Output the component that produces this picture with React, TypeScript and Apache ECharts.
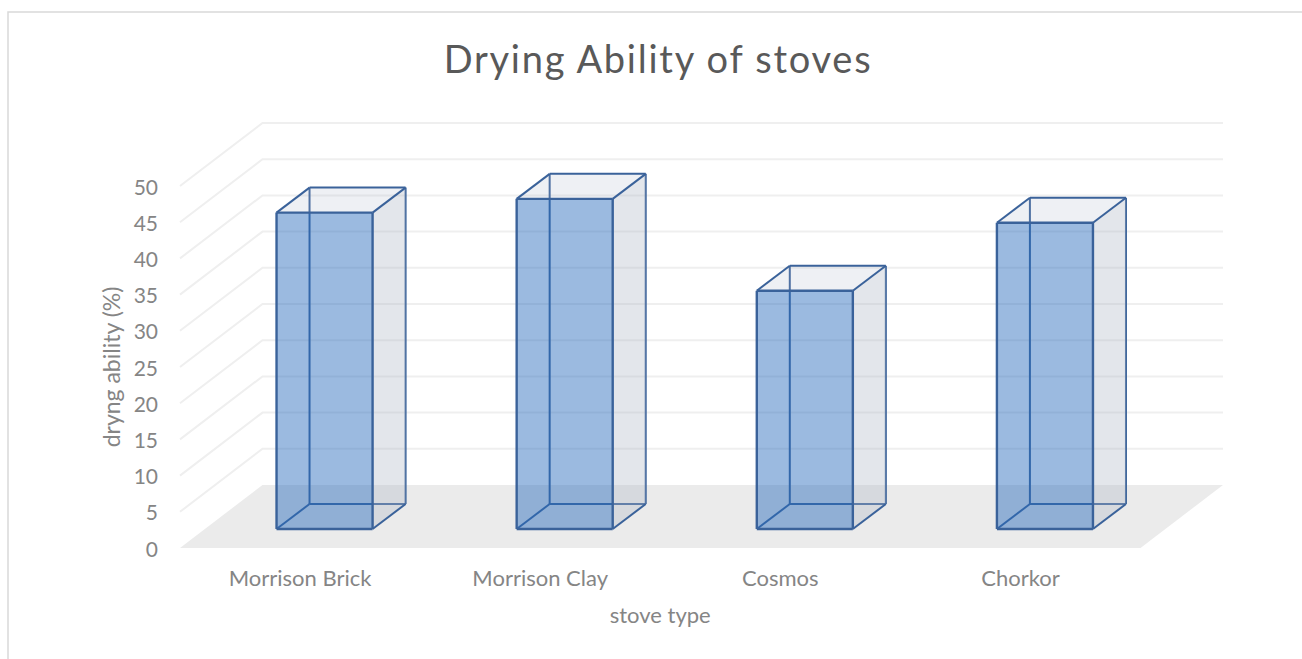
import React, { useEffect, useRef } from "react";
import * as echarts from "echarts";

const categories = ["Morrison Brick", "Morrison Clay", "Cosmos", "Chorkor"];
const dryingAbility = [43.7, 45.6, 32.9, 42.3];
const gridTicks = [5, 10, 15, 20, 25, 30, 35, 40, 45, 50];

const FLOOR_DX = 82.5;
const FLOOR_DY = 63;
const BAR_SHIFT_X = 24.5;
const BAR_SHIFT_Y = 19;
const BAR_DX = 33;
const BAR_DY = 25;
const BAR_RATIO = 0.4;
const FONT = "Lato, 'Open Sans', sans-serif";
const EDGE = "#3a629a";

function renderFloor(params: any, api: any) {
  const r = params.coordSys;
  const y = r.y + r.height;
  return {
    type: "polygon",
    silent: true,
    shape: {
      points: [
        [r.x, y],
        [r.x + FLOOR_DX, y - FLOOR_DY],
        [r.x + r.width + FLOOR_DX, y - FLOOR_DY],
        [r.x + r.width, y],
      ],
    },
    style: { fill: "#ebebeb", stroke: "none" },
  };
}

function renderGridLine(params: any, api: any) {
  const r = params.coordSys;
  const y = api.coord([0, api.value(0)])[1];
  return {
    type: "polyline",
    silent: true,
    shape: {
      points: [
        [r.x, y],
        [r.x + FLOOR_DX, y - FLOOR_DY],
        [r.x + r.width + FLOOR_DX, y - FLOOR_DY],
      ],
    },
    style: { fill: "none", stroke: "#efefef", lineWidth: 2 },
  };
}

function renderBar(params: any, api: any) {
  const top = api.coord([api.value(0), api.value(1)]);
  const base = api.coord([api.value(0), 0]);
  const w = api.size([1, 0])[0] * BAR_RATIO;
  const l = top[0] + BAR_SHIFT_X - w / 2;
  const rr = l + w;
  const t = top[1] - BAR_SHIFT_Y;
  const b = base[1] - BAR_SHIFT_Y;
  const line = (x1: number, y1: number, x2: number, y2: number, lw = 2) => ({
    type: "line",
    shape: { x1, y1, x2, y2 },
    style: { stroke: EDGE, lineWidth: lw },
  });
  const face = (points: number[][], fill: string) => ({
    type: "polygon",
    shape: { points },
    style: { fill, stroke: "none" },
  });
  return {
    type: "group",
    silent: true,
    children: [
      line(l + BAR_DX, t - BAR_DY, l + BAR_DX, b - BAR_DY),
      line(l + BAR_DX, b - BAR_DY, rr + BAR_DX, b - BAR_DY),
      line(l, b, l + BAR_DX, b - BAR_DY),
      line(rr + BAR_DX, t - BAR_DY, rr + BAR_DX, b - BAR_DY),
      face(
        [
          [l, t],
          [rr, t],
          [rr + BAR_DX, t - BAR_DY],
          [l + BAR_DX, t - BAR_DY],
        ],
        "rgba(170,180,200,0.2)"
      ),
      face(
        [
          [rr, t],
          [rr + BAR_DX, t - BAR_DY],
          [rr + BAR_DX, b - BAR_DY],
          [rr, b],
        ],
        "rgba(175,183,198,0.35)"
      ),
      face(
        [
          [l, t],
          [rr, t],
          [rr, b],
          [l, b],
        ],
        "rgba(43,108,189,0.47)"
      ),
      line(l, t, l + BAR_DX, t - BAR_DY),
      line(rr, t, rr + BAR_DX, t - BAR_DY),
      line(l + BAR_DX, t - BAR_DY, rr + BAR_DX, t - BAR_DY),
      line(rr, b, rr + BAR_DX, b - BAR_DY),
      line(l, t, rr, t, 2.4),
      line(l, b, rr, b, 2.4),
      line(l, t, l, b, 2.4),
      line(rr, t, rr, b, 2.4),
    ],
  };
}

export default function App() {
  const ref = useRef<HTMLDivElement>(null);
  useEffect(() => {
    const chart = echarts.init(ref.current!, null, { renderer: "svg" });
    chart.setOption({
      animation: false,
      backgroundColor: "#ffffff",
      title: {
        text: "Drying Ability of stoves",
        left: 653,
        top: 34,
        textAlign: "center",
        textStyle: {
          fontFamily: FONT,
          fontSize: 38,
          fontWeight: "normal",
          color: "#595959",
        },
      },
      grid: { left: 180, top: 186, width: 960.5, height: 362 },
      xAxis: {
        type: "category",
        data: categories,
        name: "stove type",
        nameLocation: "middle",
        nameGap: 55,
        nameTextStyle: { fontFamily: FONT, fontSize: 22, color: "#858585" },
        axisLine: { show: false },
        axisTick: { show: false },
        axisLabel: { fontFamily: FONT, fontSize: 22, color: "#858585", margin: 18, interval: 0 },
      },
      yAxis: {
        type: "value",
        min: 0,
        max: 50,
        interval: 5,
        name: "dryng ability (%)",
        nameLocation: "middle",
        nameGap: 56,
        nameTextStyle: { fontFamily: FONT, fontSize: 23, color: "#858585" },
        axisLine: { show: false },
        axisTick: { show: false },
        splitLine: { show: false },
        axisLabel: { fontFamily: FONT, fontSize: 21, color: "#858585", margin: 22, padding: [0, 0, 3, 0] },
      },
      graphic: [
        {
          type: "polyline",
          silent: true,
          shape: { points: [[8, 659], [8, 12], [1302, 12]] },
          style: { fill: "none", stroke: "#d9d9d9", lineWidth: 1.5 },
        },
      ],
      series: [
        {
          type: "custom",
          name: "floor",
          clip: false,
          z: 1,
          data: [[0]],
          encode: { y: 0 },
          renderItem: renderFloor,
        },
        {
          type: "custom",
          name: "gridlines",
          clip: false,
          z: 2,
          data: gridTicks.map((t) => [t]),
          encode: { y: 0 },
          renderItem: renderGridLine,
        },
        {
          type: "custom",
          name: "drying ability",
          clip: false,
          z: 3,
          data: dryingAbility.map((v, i) => [i, v]),
          encode: { x: 0, y: 1 },
          renderItem: renderBar,
        },
      ],
    });
    return () => chart.dispose();
  }, []);
  return (
    <>
      <style>{`text[style*="38px"]{letter-spacing:1.75px}`}</style>
      <div ref={ref} style={{ position: "absolute", left: 0, top: 0, width: 1302, height: 659 }} />
    </>
  );
}
